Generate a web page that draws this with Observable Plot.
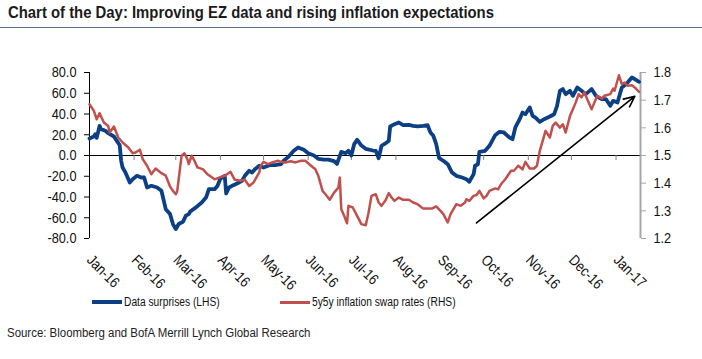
<!DOCTYPE html>
<html>
<head>
<meta charset="utf-8">
<script src="https://cdn.jsdelivr.net/npm/d3@7"></script>
<script src="https://cdn.jsdelivr.net/npm/@observablehq/plot@0.6"></script>
<style>
  html, body { margin: 0; padding: 0; background: #fff; }
  #wrap { position: relative; width: 702px; height: 359px; overflow: hidden; font-family: "Liberation Sans", Arial, sans-serif; }
  .cond { display: inline-block; transform-origin: 0 50%; white-space: nowrap; }
  #title { position: absolute; left: 8px; top: 3px; font-weight: bold; font-size: 17px; color: #1b1b1b; transform: scaleX(0.875); }
  #rule { position: absolute; left: 0; top: 27px; width: 702px; height: 1px; background: #5a7393; }
  #chart { position: absolute; left: 0; top: 30px; }
  .sw { position: absolute; width: 30px; }
  .lt { position: absolute; font-size: 12.5px; color: #111; line-height: 14px; transform: scaleX(0.82); }
  #source { position: absolute; left: 7px; top: 326px; font-size: 12.5px; color: #222; transform: scaleX(0.915); }
</style>
</head>
<body>
<div id="wrap">
  <div id="title" class="cond">Chart of the Day: Improving EZ data and rising inflation expectations</div>
  <div id="rule"></div>
  <div id="chart"></div>
  <div class="sw" style="left:92px;top:300px;height:4px;background:#0d3f85"></div>
  <div class="lt cond" style="left:124px;top:295px">Data surprises (LHS)</div>
  <div class="sw" style="left:280px;top:300.5px;height:3px;background:#c0504d"></div>
  <div class="lt cond" style="left:312px;top:295px">5y5y inflation swap rates (RHS)</div>
  <div id="source" class="cond">Source: Bloomberg and BofA Merrill Lynch Global Research</div>
</div>
<script>
// ---- Data ----
const seriesNames = ["Data surprises (LHS)", "5y5y inflation swap rates (RHS)"];

const blueDates = ["2016-01-01","2016-01-04","2016-01-05","2016-01-06","2016-01-08","2016-01-09","2016-01-12","2016-01-14","2016-01-18","2016-01-20","2016-01-22","2016-01-23","2016-01-24","2016-01-26","2016-01-29","2016-01-31","2016-02-03","2016-02-06","2016-02-08","2016-02-10","2016-02-13","2016-02-17","2016-02-20","2016-02-23","2016-02-26","2016-02-28","2016-03-01","2016-03-03","2016-03-06","2016-03-08","2016-03-10","2016-03-11","2016-03-15","2016-03-19","2016-03-22","2016-03-24","2016-03-28","2016-03-30","2016-04-01","2016-04-04","2016-04-05","2016-04-07","2016-04-10","2016-04-14","2016-04-16","2016-04-18","2016-04-21","2016-04-23","2016-04-25","2016-04-28","2016-05-01","2016-05-05","2016-05-09","2016-05-13","2016-05-15","2016-05-18","2016-05-22","2016-05-25","2016-05-29","2016-06-01","2016-06-05","2016-06-08","2016-06-12","2016-06-15","2016-06-19","2016-06-21","2016-06-24","2016-06-27","2016-06-29","2016-07-01","2016-07-03","2016-07-05","2016-07-08","2016-07-11","2016-07-16","2016-07-18","2016-07-20","2016-07-22","2016-07-25","2016-07-27","2016-07-28","2016-07-31","2016-08-03","2016-08-06","2016-08-10","2016-08-13","2016-08-16","2016-08-20","2016-08-23","2016-08-25","2016-08-27","2016-08-29","2016-08-31","2016-09-03","2016-09-06","2016-09-09","2016-09-12","2016-09-16","2016-09-19","2016-09-21","2016-09-24","2016-09-25","2016-09-27","2016-09-28","2016-10-02","2016-10-05","2016-10-09","2016-10-12","2016-10-15","2016-10-19","2016-10-21","2016-10-23","2016-10-26","2016-10-28","2016-10-30","2016-11-02","2016-11-04","2016-11-06","2016-11-09","2016-11-12","2016-11-16","2016-11-19","2016-11-21","2016-11-23","2016-11-25","2016-11-27","2016-11-30","2016-12-02","2016-12-05","2016-12-08","2016-12-11","2016-12-15","2016-12-18","2016-12-22","2016-12-25","2016-12-28","2016-12-30","2017-01-02","2017-01-05","2017-01-08","2017-01-12","2017-01-14","2017-01-17"];
const blueValues = [16.4,18.3,20.5,17.0,28.6,25.4,23.8,21.5,18.3,14.1,9.9,-5.1,-11.6,-16.4,-26.0,-22.8,-19.6,-21.2,-21.2,-30.8,-29.2,-30.8,-34.0,-51.7,-56.5,-66.1,-70.9,-66.0,-63.9,-58.0,-56.5,-54.0,-50.0,-45.3,-40.5,-32.5,-32.5,-29.2,-22.2,-19.6,-36.6,-30.8,-28.6,-26.0,-24.4,-19.6,-14.7,-16.4,-13.2,-9.9,-11.6,-9.3,-9.3,-8.4,-5.1,-1.6,4.5,7.7,5.5,2.2,0.0,-3.2,-4.0,-4.0,-5.5,-8.2,3.5,2.2,4.5,0.0,11.0,15.2,9.6,6.4,4.8,4.5,-2.6,9.4,12.0,14.0,28.0,30.2,31.8,29.2,29.5,28.6,28.0,28.6,29.2,22.2,19.0,10.9,-2.6,-5.1,-8.4,-16.4,-19.6,-21.2,-22.8,-25.3,-18.0,-9.9,-8.4,3.5,4.5,9.3,19.6,22.8,22.2,17.3,15.7,27.0,35.0,41.4,39.8,46.3,38.3,36.6,32.5,35.0,37.6,39.8,47.9,62.3,64.0,59.1,62.3,57.5,65.5,62.3,59.1,64.0,57.5,54.3,54.3,47.9,52.7,51.1,65.5,68.7,75.2,73.5,71.0];

const redDates = ["2016-01-01","2016-01-04","2016-01-06","2016-01-08","2016-01-11","2016-01-14","2016-01-15","2016-01-18","2016-01-21","2016-01-24","2016-01-28","2016-01-31","2016-02-02","2016-02-05","2016-02-07","2016-02-10","2016-02-13","2016-02-16","2016-02-20","2016-02-23","2016-02-26","2016-02-28","2016-03-01","2016-03-02","2016-03-05","2016-03-07","2016-03-09","2016-03-10","2016-03-12","2016-03-14","2016-03-16","2016-03-20","2016-03-23","2016-03-28","2016-03-31","2016-04-04","2016-04-08","2016-04-11","2016-04-15","2016-04-18","2016-04-21","2016-04-24","2016-04-28","2016-04-29","2016-05-01","2016-05-04","2016-05-07","2016-05-11","2016-05-13","2016-05-16","2016-05-20","2016-05-23","2016-05-27","2016-05-30","2016-06-03","2016-06-06","2016-06-08","2016-06-11","2016-06-13","2016-06-16","2016-06-19","2016-06-22","2016-06-23","2016-06-24","2016-06-26","2016-06-28","2016-06-29","2016-07-02","2016-07-05","2016-07-06","2016-07-08","2016-07-11","2016-07-13","2016-07-15","2016-07-18","2016-07-20","2016-07-22","2016-07-25","2016-07-27","2016-07-29","2016-07-31","2016-08-03","2016-08-06","2016-08-10","2016-08-13","2016-08-16","2016-08-20","2016-08-23","2016-08-26","2016-08-29","2016-09-01","2016-09-03","2016-09-06","2016-09-08","2016-09-10","2016-09-12","2016-09-15","2016-09-18","2016-09-19","2016-09-21","2016-09-24","2016-09-26","2016-09-28","2016-10-01","2016-10-03","2016-10-05","2016-10-09","2016-10-11","2016-10-13","2016-10-16","2016-10-20","2016-10-22","2016-10-25","2016-10-28","2016-10-30","2016-11-02","2016-11-05","2016-11-07","2016-11-09","2016-11-11","2016-11-13","2016-11-16","2016-11-18","2016-11-20","2016-11-23","2016-11-25","2016-11-27","2016-11-30","2016-12-02","2016-12-04","2016-12-06","2016-12-08","2016-12-10","2016-12-12","2016-12-15","2016-12-17","2016-12-19","2016-12-22","2016-12-24","2016-12-28","2016-12-30","2016-12-31","2017-01-03","2017-01-05","2017-01-07","2017-01-09","2017-01-12","2017-01-14","2017-01-17"];
const redValues = [1.685,1.662,1.631,1.653,1.619,1.607,1.583,1.605,1.565,1.547,1.529,1.508,1.511,1.521,1.487,1.463,1.432,1.453,1.436,1.427,1.388,1.372,1.360,1.372,1.499,1.508,1.487,1.469,1.499,1.481,1.457,1.450,1.432,1.414,1.420,1.427,1.441,1.412,1.409,1.412,1.390,1.402,1.439,1.463,1.477,1.469,1.475,1.481,1.477,1.475,1.479,1.475,1.481,1.481,1.463,1.450,1.427,1.372,1.360,1.340,1.366,1.384,1.420,1.306,1.282,1.255,1.318,1.312,1.282,1.272,1.252,1.248,1.294,1.354,1.360,1.330,1.318,1.340,1.364,1.348,1.336,1.348,1.340,1.340,1.330,1.324,1.308,1.308,1.308,1.316,1.300,1.288,1.258,1.288,1.306,1.324,1.318,1.330,1.342,1.336,1.354,1.357,1.372,1.345,1.354,1.372,1.381,1.378,1.396,1.414,1.445,1.445,1.463,1.450,1.477,1.453,1.453,1.463,1.517,1.553,1.589,1.565,1.607,1.619,1.601,1.613,1.583,1.643,1.667,1.692,1.722,1.710,1.728,1.703,1.667,1.692,1.716,1.706,1.716,1.722,1.742,1.734,1.790,1.758,1.764,1.752,1.754,1.746,1.730];

const monthDates = ["2016-01-01","2016-02-01","2016-03-01","2016-04-01","2016-05-01","2016-06-01","2016-07-01","2016-08-01","2016-09-01","2016-10-01","2016-11-01","2016-12-01","2017-01-01"];
const monthLabels = ["Jan-16","Feb-16","Mar-16","Apr-16","May-16","Jun-16","Jul-16","Aug-16","Sep-16","Oct-16","Nov-16","Dec-16","Jan-17"];
const leftTicks = [-80, -60, -40, -20, 0, 20, 40, 60, 80];
const rightTicks = [1.2, 1.3, 1.4, 1.5, 1.6, 1.7, 1.8];
const leftDomain = [-80, 80];
const rightDomain = [1.2, 1.8];
const xDomainDates = ["2016-01-01", "2017-01-18"];
// Annotation arrow (trend), in data coordinates: start/end date and LHS value
const arrowStart = { date: "2016-09-26", value: -65 };
const arrowEnd = { date: "2017-01-14", value: 57 };

// ---- Build ----
const parse = d3.utcParse("%Y-%m-%d");
const toLeft = r => leftDomain[0] + (r - rightDomain[0]) * (leftDomain[1] - leftDomain[0]) / (rightDomain[1] - rightDomain[0]);
const fromLeft = v => rightDomain[0] + (v - leftDomain[0]) * (rightDomain[1] - rightDomain[0]) / (leftDomain[1] - leftDomain[0]);

const blue = blueDates.map((d, i) => ({ date: parse(d), value: blueValues[i] }));
const red = redDates.map((d, i) => ({ date: parse(d), value: redValues[i] }));
const months = monthDates.map(parse);
const labelOf = new Map(months.map((d, i) => [+d, monthLabels[i]]));
const xDomain = xDomainDates.map(parse);

const chart = Plot.plot({
  width: 702,
  height: 262,
  marginLeft: 89,
  marginRight: 62,
  marginTop: 42,
  marginBottom: 54,
  x: { type: "utc", domain: xDomain },
  y: { domain: leftDomain },
  style: { fontFamily: "'Liberation Sans', Arial, sans-serif", fontSize: "15px", color: "#111", background: "transparent", overflow: "visible" },
  marks: [
    Plot.ruleY([0], { stroke: "#000", strokeWidth: 1 }),
    Plot.ruleX(months, { x: d => d, y1: 0, y2: -4.8, stroke: "#7f7f7f", strokeWidth: 1 }),
    Plot.ruleX([xDomain[0]], { y1: leftDomain[0], y2: leftDomain[1], stroke: "#000", strokeWidth: 1 }),
    Plot.axisY({ anchor: "left", ticks: leftTicks, tickFormat: d => d.toFixed(1), tickSize: 5, tickPadding: 8, stroke: "#000", label: null }),
    Plot.ruleX([xDomain[1]], { y1: leftDomain[0], y2: leftDomain[1], stroke: "#a6a6a6", strokeWidth: 2 }),
    Plot.axisY({ anchor: "right", ticks: rightTicks.map(toLeft), tickFormat: d => fromLeft(d).toFixed(1), tickSize: 5, tickPadding: 8, stroke: "#a6a6a6", label: null }),
    Plot.axisX({ ticks: months, tickFormat: d => labelOf.get(+d), tickSize: 0, tickPadding: 19, tickRotate: 45, label: null }),
    Plot.line(blue, { x: "date", y: "value", stroke: "#0d3f85", strokeWidth: 3.8, strokeLinejoin: "round", strokeLinecap: "round" }),
    Plot.line(red, { x: "date", y: d => toLeft(d.value), stroke: "#c0504d", strokeWidth: 2.5, strokeLinejoin: "round", strokeLinecap: "round" }),
    Plot.arrow([{ x1: parse(arrowStart.date), y1: arrowStart.value, x2: parse(arrowEnd.date), y2: arrowEnd.value }],
      { x1: "x1", y1: "y1", x2: "x2", y2: "y2", stroke: "#000", strokeWidth: 1.6, headLength: 11, headAngle: 50 })
  ]
});

// Narrow the tick-label glyphs horizontally (the reference uses an Arial Narrow–like face).
// Only texts positioned by a transform are touched, so their anchor points stay put.
chart.querySelectorAll("text").forEach(t => {
  const tr = t.getAttribute("transform");
  if (tr && !t.hasAttribute("x")) t.setAttribute("transform", tr + " scale(0.85,1)");
});
document.getElementById("chart").appendChild(chart);
</script>
</body>
</html>
